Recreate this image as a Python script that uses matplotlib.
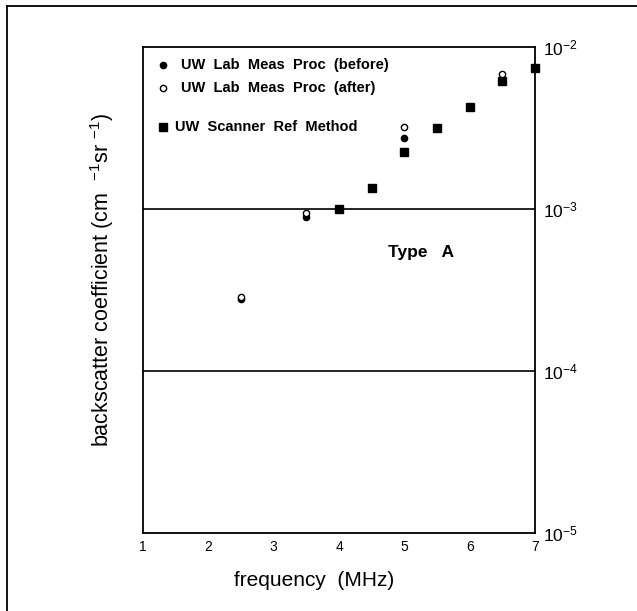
import matplotlib
matplotlib.use("Agg")
import matplotlib.pyplot as plt
from matplotlib.lines import Line2D

plt.rcParams['font.family'] = ['Liberation Sans', 'DejaVu Sans']
plt.rcParams['mathtext.fontset'] = 'custom'
plt.rcParams['mathtext.rm'] = 'Liberation Sans'
plt.rcParams['mathtext.it'] = 'Liberation Sans'

# data
freq_before = [2.5, 3.5, 5.0, 6.5]
bsc_before = [2.8e-4, 8.9e-4, 2.75e-3, 6.3e-3]
freq_after = [2.5, 3.5, 5.0, 6.5]
bsc_after = [2.85e-4, 9.4e-4, 3.2e-3, 6.8e-3]
freq_scanner = [4.0, 4.5, 5.0, 5.5, 6.0, 6.5, 7.0]
bsc_scanner = [1.0e-3, 1.35e-3, 2.25e-3, 3.15e-3, 4.25e-3, 6.2e-3, 7.4e-3]
x_ticks = [1, 2, 3, 4, 5, 6, 7]
y_ticks = [1e-5, 1e-4, 1e-3, 1e-2]
y_tick_labels = [r'$10^{-5}$', r'$10^{-4}$', r'$10^{-3}$', r'$10^{-2}$']
legend_labels = ['UW  Lab  Meas  Proc  (before)', 'UW  Lab  Meas  Proc  (after)', 'UW  Scanner  Ref  Method']

fig = plt.figure(figsize=(6.37, 6.11), dpi=100)
# outer frame (top and left edges visible)
fig.add_artist(Line2D([7/637, 7/637], [0, 1 - 6/611], color='black', lw=1.3, transform=fig.transFigure))
fig.add_artist(Line2D([7/637, 1], [1 - 6/611, 1 - 6/611], color='black', lw=1.3, transform=fig.transFigure))

ax = fig.add_axes([143/637, 1 - 533/611, 392/637, 486/611])
ax.set_yscale('log')
ax.set_xlim(1, 7)
ax.set_ylim(1e-5, 1e-2)

for s in ax.spines.values():
    s.set_linewidth(1.3)

for yv in [1e-3, 1e-4]:
    ax.axhline(yv, color='black', lw=1.2)

ax.plot(freq_scanner, bsc_scanner, 's', color='black', ms=6, clip_on=False, zorder=3)
ax.plot(freq_before, bsc_before, 'o', color='black', ms=4.5, clip_on=False, zorder=4)
ax.plot(freq_after, bsc_after, 'o', mfc='white', mec='black', mew=1.0, ms=4.5, clip_on=False, zorder=4)

ax.set_xticks(x_ticks)
ax.set_xticklabels([str(v) for v in x_ticks], fontsize=10)
ax.tick_params(axis='x', length=0, pad=5)
ax.yaxis.tick_right()
ax.set_yticks(y_ticks)
ax.set_yticklabels(y_tick_labels, fontsize=12.5)
ax.minorticks_off()
ax.tick_params(axis='y', length=0, pad=6)

fig.text(314/637, 1 - 580/611, 'frequency  (MHz)', ha='center', va='center', fontsize=15)
fig.text(102/637, 1 - 280/611, r'backscatter coefficient (cm  $^{-1}$sr $^{-1}$)',
         rotation=90, ha='center', va='center', fontsize=15.5)

# legend drawn manually
leg_y = [65, 88, 127]
ax.plot([(163 - 143) / 392], [1 - (leg_y[0] - 47) / 486], 'o', color='black', ms=4.5, transform=ax.transAxes)
ax.plot([(163 - 143) / 392], [1 - (leg_y[1] - 47) / 486], 'o', mfc='white', mec='black', ms=4.5, transform=ax.transAxes)
ax.plot([(163 - 143) / 392], [1 - (leg_y[2] - 47) / 486], 's', color='black', ms=5.5, transform=ax.transAxes)
tx = [181, 181, 175]
for lab, yy, xx in zip(legend_labels, leg_y, tx):
    ax.text((xx - 143) / 392, 1 - (yy - 47) / 486, lab, transform=ax.transAxes,
            fontsize=10.5, fontweight='bold', va='center', ha='left')

ax.text((388 - 143) / 392, 1 - (252 - 47) / 486, 'Type   A', transform=ax.transAxes,
        fontsize=12.5, fontweight='bold', va='center', ha='left')

fig.savefig('out.png', dpi=100)
